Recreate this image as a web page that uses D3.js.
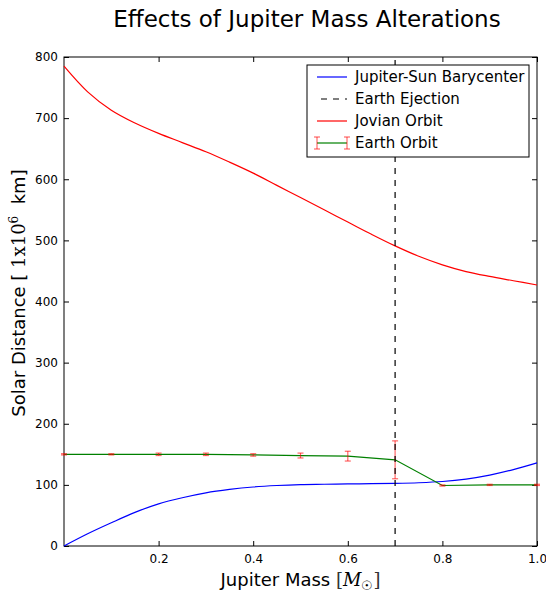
<!DOCTYPE html>
<html>
<head>
<script src="https://cdnjs.cloudflare.com/ajax/libs/d3/7.8.5/d3.min.js"></script>
<style>
  body { margin: 0; background: #fff; }
  svg text { font-family: "DejaVu Sans", sans-serif; fill: #000; }
  .math { font-family: "DejaVu Serif", serif; }
</style>
</head>
<body>
<div id="vis"></div>
<script>
const w = 546, h = 593;
const m = {left: 64, right: 9, top: 57, bottom: 47};

// fine mass grid for the smooth curves
const fineMasses = [0.0, 0.05, 0.1, 0.15, 0.2, 0.25, 0.3, 0.35, 0.4, 0.45, 0.5,
                    0.55, 0.6, 0.65, 0.7, 0.75, 0.8, 0.85, 0.9, 0.95, 1.0];
const barycenter = [0, 20, 38, 55, 69, 79, 87, 92.5, 96.5, 99, 100.5,
                    101, 101.5, 102, 102.5, 103.5, 105.5, 109.5, 116, 125, 136];
const jovianOrbit = [785, 743, 713, 692, 675, 660, 645, 628, 610, 590, 570,
                     550, 530, 510, 491, 474, 460, 449, 441, 434, 427];
// coarse grid for earth orbit with error bars
const masses = [0.0, 0.1, 0.2, 0.3, 0.4, 0.5, 0.6, 0.7, 0.8, 0.9, 1.0];
const earthOrbit = [150, 150, 150, 150, 149, 148, 147, 141, 99, 100, 100];
const earthErr = [1, 1, 2, 2, 2, 4, 8, 31, 1, 1, 1];
const ejectionMass = 0.7;
const xTicks = [0.2, 0.4, 0.6, 0.8, 1.0];
const yTicks = [0, 100, 200, 300, 400, 500, 600, 700, 800];

const svg = d3.select("#vis").append("svg").attr("width", w).attr("height", h);

const x = d3.scaleLinear().domain([0, 1]).range([m.left, w - m.right]);
const y = d3.scaleLinear().domain([0, 800]).range([h - m.bottom, m.top]);

// axes, ticks pointing inward on all four sides
const tl = 5;
svg.append("g").attr("transform", `translate(0,${y(0)})`)
  .call(d3.axisBottom(x).tickValues(xTicks).tickSizeInner(-tl).tickSizeOuter(0).tickPadding(8).tickFormat(d3.format(".1f")));
svg.append("g").attr("transform", `translate(0,${y(800)})`)
  .call(d3.axisTop(x).tickValues(xTicks).tickSizeInner(-tl).tickSizeOuter(0).tickFormat(""));
svg.append("g").attr("transform", `translate(${x(0)},0)`)
  .call(d3.axisLeft(y).tickValues(yTicks).tickSizeInner(-tl).tickSizeOuter(0).tickPadding(6));
svg.append("g").attr("transform", `translate(${x(1)},0)`)
  .call(d3.axisRight(y).tickValues(yTicks).tickSizeInner(-tl).tickSizeOuter(0).tickFormat(""));
svg.selectAll(".tick text").attr("font-size", 12).attr("font-family", "DejaVu Sans");
svg.selectAll(".domain").remove();
svg.append("rect").attr("x", x(0)).attr("y", y(800))
  .attr("width", x(1) - x(0)).attr("height", y(0) - y(800))
  .attr("fill", "none").attr("stroke", "#000").attr("stroke-width", 1);

const plot = svg.append("g");
const smooth = d3.line().x((d, i) => x(fineMasses[i])).y(d => y(d)).curve(d3.curveCatmullRom);
const straight = d3.line().x((d, i) => x(masses[i])).y(d => y(d));

plot.append("path").attr("d", smooth(barycenter))
  .attr("fill", "none").attr("stroke", "#0000ff").attr("stroke-width", 1.2);
plot.append("path").attr("d", smooth(jovianOrbit))
  .attr("fill", "none").attr("stroke", "#ff0000").attr("stroke-width", 1.2);

// earth orbit with error bars
plot.append("path").attr("d", straight(earthOrbit))
  .attr("fill", "none").attr("stroke", "#008000").attr("stroke-width", 1.2);
const eb = plot.append("g").attr("stroke", "#ff0000").attr("stroke-opacity", 0.6).attr("stroke-width", 1.2);
earthOrbit.forEach((v, i) => {
  const cx = x(masses[i]), e = earthErr[i];
  eb.append("line").attr("x1", cx).attr("x2", cx).attr("y1", y(v - e)).attr("y2", y(v + e));
  eb.append("line").attr("x1", cx - 3).attr("x2", cx + 3).attr("y1", y(v - e)).attr("y2", y(v - e));
  eb.append("line").attr("x1", cx - 3).attr("x2", cx + 3).attr("y1", y(v + e)).attr("y2", y(v + e));
});

plot.append("line").attr("x1", x(ejectionMass)).attr("x2", x(ejectionMass))
  .attr("y1", y(0)).attr("y2", y(800))
  .attr("stroke", "#000").attr("stroke-width", 1.2).attr("stroke-dasharray", "6,6");

// title and labels
svg.append("text").attr("x", 307).attr("y", 27)
  .attr("text-anchor", "middle").attr("font-size", 23).text("Effects of Jupiter Mass Alterations");

const xl = svg.append("text").attr("x", (x(0) + x(1)) / 2).attr("y", 586)
  .attr("text-anchor", "middle").attr("font-size", 18);
xl.append("tspan").text("Jupiter Mass ");
xl.append("tspan").attr("class", "math").attr("fill", "#333").text("[");
xl.append("tspan").attr("class", "math").attr("font-style", "italic").text("M");
xl.append("tspan").attr("class", "math").attr("font-size", 13).attr("dy", 4).text("\u2609");
xl.append("tspan").attr("class", "math").attr("fill", "#333").attr("dy", -4).text("]");

const yl = svg.append("text").attr("transform", `translate(25,293) rotate(-90)`)
  .attr("text-anchor", "middle").attr("font-size", 18);
yl.append("tspan").text("Solar Distance [ ");
yl.append("tspan").attr("class", "math").text("1x10");
yl.append("tspan").attr("class", "math").attr("font-size", 12).attr("dy", -7).text("6");
yl.append("tspan").attr("dy", 7).text("\u00a0 km]");

// legend
const lg = svg.append("g").attr("transform", "translate(307,65)");
lg.append("rect").attr("width", 222).attr("height", 92)
  .attr("fill", "#fff").attr("stroke", "#000").attr("stroke-width", 1);
const items = [
  {label: "Jupiter-Sun Barycenter", color: "#0000ff"},
  {label: "Earth Ejection", color: "#000", dash: "6,6"},
  {label: "Jovian Orbit", color: "#ff0000"},
  {label: "Earth Orbit", color: "#008000", err: true}
];
items.forEach((it, i) => {
  const yy = 12 + i * 22;
  const line = lg.append("line").attr("x1", 10).attr("x2", 40).attr("y1", yy).attr("y2", yy)
    .attr("stroke", it.color).attr("stroke-width", 1.2);
  if (it.dash) line.attr("stroke-dasharray", it.dash).attr("x1", 14);
  if (it.err) {
    line.attr("stroke-opacity", 0.6).attr("stroke-width", 2);
    [10, 40].forEach(ex => {
      lg.append("line").attr("x1", ex).attr("x2", ex).attr("y1", yy - 6).attr("y2", yy + 6)
        .attr("stroke", "#ff0000").attr("stroke-opacity", 0.7);
      lg.append("line").attr("x1", ex - 3).attr("x2", ex + 3).attr("y1", yy - 6).attr("y2", yy - 6)
        .attr("stroke", "#ff0000").attr("stroke-opacity", 0.7);
      lg.append("line").attr("x1", ex - 3).attr("x2", ex + 3).attr("y1", yy + 6).attr("y2", yy + 6)
        .attr("stroke", "#ff0000").attr("stroke-opacity", 0.7);
    });
  }
  lg.append("text").attr("x", 48).attr("y", yy + 5).attr("font-size", 15).text(it.label);
});
</script>
</body>
</html>
